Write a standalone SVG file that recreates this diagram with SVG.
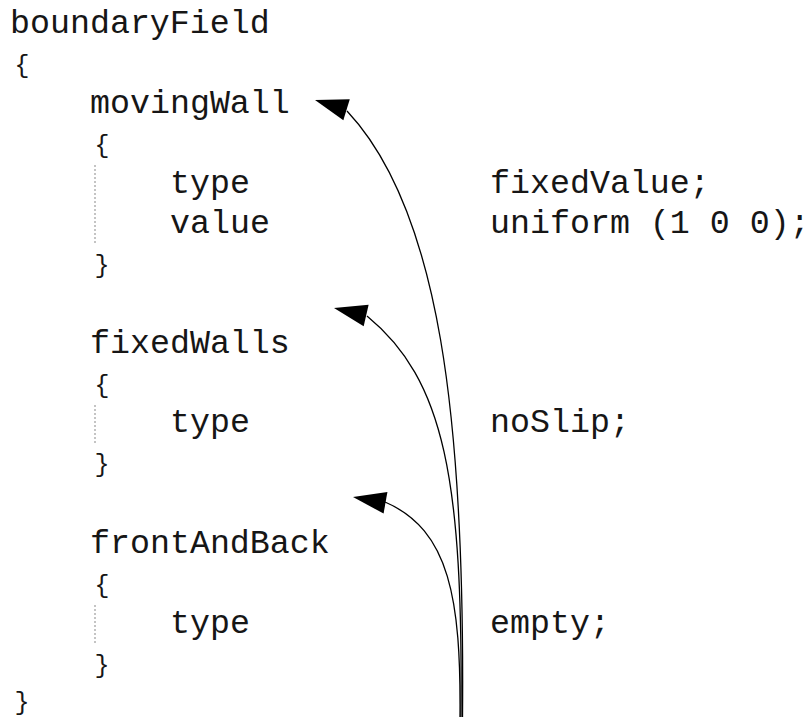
<svg xmlns="http://www.w3.org/2000/svg" xmlns:xlink="http://www.w3.org/1999/xlink" width="812" height="717" viewBox="0 0 812 717">
  <style>
    text { font-family: "Liberation Mono", "Courier New", monospace; font-size: 33.3px; fill: #161616; }
    text.brace { font-size: 25px; }
    .guide { stroke: #c4c4c4; stroke-width: 2; stroke-dasharray: 2 2; fill: none; }
    .link { stroke: #000; stroke-width: 1.3; fill: none; }
    .head { fill: #000; stroke: none; }
  </style>
  <defs>
    <!-- arrowhead: tip at origin, pointing along -x -->
    <polygon id="head" class="head" points="0,0 33,-11 33,11"/>
  </defs>
  <rect width="812" height="717" fill="#fff"/>

  <g id="boundaryField">
    <text x="10" y="33">boundaryField</text>
    <text class="brace" x="14.5" y="73">{</text>
    <text class="brace" x="14.5" y="710">}</text>
  </g>

  <g id="movingWall">
    <text x="90" y="113">movingWall</text>
    <text class="brace" x="94.5" y="153">{</text>
    <line class="guide" x1="95" y1="165" x2="95" y2="243"/>
    <text x="170" y="193">type</text>
    <text x="490" y="193">fixedValue;</text>
    <text x="170" y="233">value</text>
    <text x="490" y="233">uniform (1 0 0);</text>
    <text class="brace" x="94.5" y="273">}</text>
  </g>

  <g id="fixedWalls">
    <text x="90" y="353">fixedWalls</text>
    <text class="brace" x="94.5" y="393">{</text>
    <line class="guide" x1="95" y1="405" x2="95" y2="443"/>
    <text x="170" y="432">type</text>
    <text x="490" y="432">noSlip;</text>
    <text class="brace" x="94.5" y="472">}</text>
  </g>

  <g id="frontAndBack">
    <text x="90" y="553">frontAndBack</text>
    <text class="brace" x="94.5" y="593">{</text>
    <line class="guide" x1="95" y1="605" x2="95" y2="643"/>
    <text x="170" y="633">type</text>
    <text x="490" y="633">empty;</text>
    <text class="brace" x="94.5" y="673">}</text>
  </g>

  <g id="connectors">
    <path class="link" d="M462.5 717 C465 420 440 210 347 111"/>
    <use xlink:href="#head" href="#head" transform="translate(315 100) rotate(17)"/>
    <path class="link" d="M461 717 C463 480 445 380 367 316"/>
    <use xlink:href="#head" href="#head" transform="translate(334 308) rotate(13)"/>
    <path class="link" d="M460 717 C461 600 450 530 385 502"/>
    <use xlink:href="#head" href="#head" transform="translate(353 497) rotate(10)"/>
  </g>
</svg>
